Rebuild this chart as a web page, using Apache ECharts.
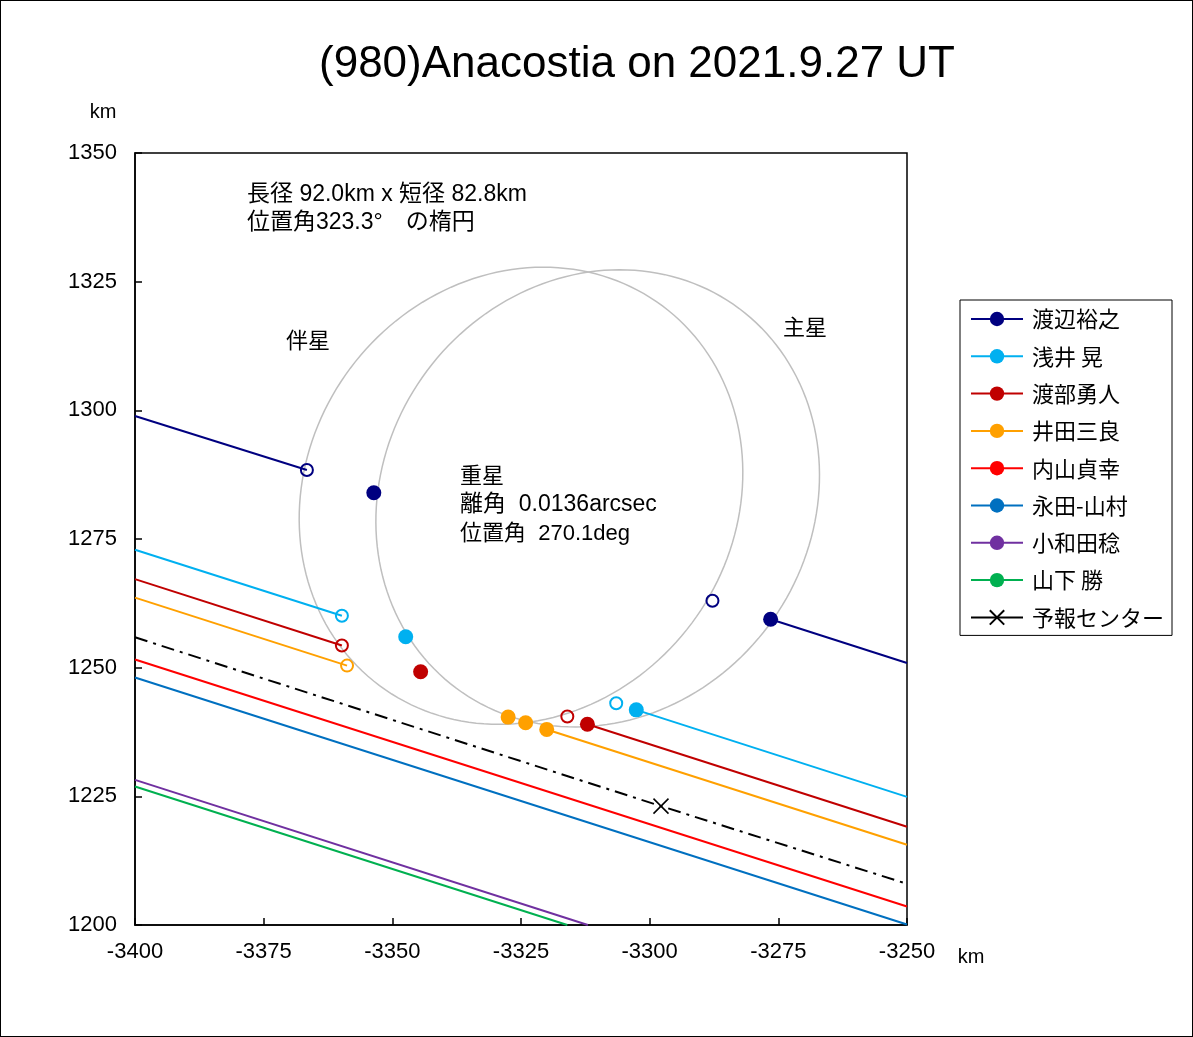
<!DOCTYPE html>
<html><head><meta charset="utf-8">
<script src="https://cdn.jsdelivr.net/npm/echarts@6/dist/echarts.min.js"></script>
<style>
html,body{margin:0;padding:0;background:#fff;overflow:hidden}
#c{position:absolute;left:0;top:0;width:1193px;height:1037px}
#frame{position:absolute;left:0;top:0;width:1193px;height:1037px;box-sizing:border-box;border:1px solid #000;pointer-events:none}
</style>
</head><body><div id="c"></div><div id="frame"></div>
<script>
// ---- axis ranges / ticks ----
const xRange = [-3400, -3250];
const yRange = [1200, 1350];
const tickStep = 25;

// ---- legend names (order as in the reference) ----
const legendNames = ['渡辺裕之', '浅井 晃', '渡部勇人', '井田三良', '内山貞幸', '永田-山村', '小和田稔', '山下 勝', '予報センター'];
const legendColors = ['#000080', '#00B0F0', '#C00000', '#FFA000', '#FF0000', '#0070C0', '#7030A0', '#00B050', '#000000'];

// ---- 渡辺裕之 ----
const watanabeIn = [[-3400, 1298.9], [-3366.6, 1288.4]];
const watanabeOut = [[-3276.5, 1259.4], [-3250, 1250.9]];
const watanabeOpen = [[-3366.6, 1288.4], [-3287.8, 1263.0]];
const watanabeFilled = [[-3353.6, 1284.0], [-3276.5, 1259.4]];

// ---- 浅井 晃 ----
const asaiIn = [[-3400, 1272.9], [-3359.8, 1260.1]];
const asaiOut = [[-3302.6, 1241.8], [-3250, 1224.9]];
const asaiOpen = [[-3359.8, 1260.1], [-3306.5, 1243.1]];
const asaiFilled = [[-3347.4, 1256.0], [-3302.6, 1241.8]];

// ---- 渡部勇人 ----
const watabeIn = [[-3400, 1267.2], [-3359.8, 1254.3]];
const watabeOut = [[-3312.1, 1239.0], [-3250, 1219.1]];
const watabeOpen = [[-3359.8, 1254.3], [-3316.0, 1240.5]];
const watabeFilled = [[-3344.5, 1249.2], [-3312.1, 1239.0]];

// ---- 井田三良 ----
const idaIn = [[-3400, 1263.6], [-3358.8, 1250.4]];
const idaOut = [[-3320.0, 1238.0], [-3250, 1215.6]];
const idaOpen = [[-3358.8, 1250.4]];
const idaFilled = [[-3327.5, 1240.4], [-3324.1, 1239.3], [-3320.0, 1238.0]];

// ---- chords without events ----
const uchiyamaLine = [[-3400, 1251.6], [-3250, 1203.6]];
const nagataLine = [[-3400, 1248.1], [-3250, 1200.1]];
const owadaLine = [[-3400, 1228.2], [-3312.0, 1200.0]];
const yamashitaLine = [[-3400, 1226.9], [-3316.0, 1200.0]];

// ---- prediction ----
const predLine = [[-3400, 1255.9], [-3297.8, 1223.1], [-3250, 1208.0]];

// ---- fitted ellipses (伴星 left, 主星 right) ----
const ellipseCenters = [[-3325.0, 1283.4], [-3310.1, 1282.9]];
const ellipseAxesKm = [92.0, 82.8];
const ellipsePAdeg = [323.3];

const FONT = "'Liberation Sans', Arial, 'Noto Sans CJK JP', sans-serif";
const JFONT = "'Noto Sans CJK JP', 'Liberation Sans', sans-serif";

function observed(idx, inSeg, outSeg, openPts, filledPts) {
  const name = legendNames[idx], c = legendColors[idx];
  return [
    { type: 'line', name, color: c, symbol: 'circle', symbolSize: 14, z: 3,
      itemStyle: { color: c, opacity: 1 }, lineStyle: { color: c, width: 2 },
      data: inSeg.map(p => ({ value: p, symbol: 'none' })) },
    { type: 'line', name, color: c, symbol: 'circle', symbolSize: 14, z: 3,
      itemStyle: { color: c, opacity: 1 }, lineStyle: { color: c, width: 2 },
      data: outSeg.map(p => ({ value: p, symbol: 'none' })) },
    { type: 'scatter', name, symbol: 'circle', symbolSize: 12, z: 5,
      itemStyle: { color: 'rgba(0,0,0,0)', borderColor: c, borderWidth: 2, opacity: 1 }, data: openPts },
    { type: 'scatter', name, symbol: 'circle', symbolSize: 15, z: 6,
      itemStyle: { color: c, opacity: 1 }, data: filledPts }
  ];
}
function plain(idx, pts) {
  const c = legendColors[idx];
  return { type: 'line', name: legendNames[idx], color: c, symbol: 'none', z: 3,
    lineStyle: { color: c, width: 2 }, data: pts };
}

const series = [].concat(
  observed(0, watanabeIn, watanabeOut, watanabeOpen, watanabeFilled),
  observed(1, asaiIn, asaiOut, asaiOpen, asaiFilled),
  observed(2, watabeIn, watabeOut, watabeOpen, watabeFilled),
  observed(3, idaIn, idaOut, idaOpen, idaFilled),
  [plain(4, uchiyamaLine), plain(5, nagataLine), plain(6, owadaLine), plain(7, yamashitaLine)],
  [{
    type: 'line', name: legendNames[8], color: '#000', z: 4,
    symbol: 'path://M0,0L10,10M10,0L0,10', symbolSize: 15,
    itemStyle: { color: 'rgba(0,0,0,0)', borderColor: '#000', borderWidth: 1.5, opacity: 1 },
    lineStyle: { color: '#000', width: 2, type: [13, 6, 3, 6] },
    data: predLine.map((p, i) => i === 1 ? { value: p } : { value: p, symbol: 'none' })
  }],
  [{
    type: 'custom', name: 'ellipse', z: 2, silent: true,
    encode: { x: 0, y: 1 },
    data: ellipseCenters,
    renderItem: function (params, api) {
      const cx = api.value(0), cy = api.value(1);
      const a = ellipseAxesKm[0] / 2, b = ellipseAxesKm[1] / 2;
      const th = (360 - ellipsePAdeg[0]) * Math.PI / 180;
      const ux = Math.sin(th), uy = Math.cos(th);   // major-axis direction
      const vx = Math.cos(th), vy = -Math.sin(th);  // minor-axis direction
      const pts = [];
      for (let k = 0; k <= 360; k += 2) {
        const t = k * Math.PI / 180;
        const u = a * Math.cos(t), v = b * Math.sin(t);
        pts.push(api.coord([cx + u * ux + v * vx, cy + u * uy + v * vy]));
      }
      return { type: 'polyline', shape: { points: pts },
        style: { fill: null, stroke: '#BFBFBF', lineWidth: 1.5 } };
    }
  }]
);

const legendData = legendNames.map((n, i) => i === 8 ? { name: n, lineStyle: { type: 'solid' } } : { name: n });

const chart = echarts.init(document.getElementById('c'), null, { renderer: 'canvas' });
chart.setOption({
  animation: false,
  backgroundColor: '#fff',
  grid: { left: 135, right: 286, top: 153, bottom: 112, show: true, borderColor: '#000', borderWidth: 1.5, backgroundColor: 'transparent' },
  xAxis: {
    type: 'value', min: xRange[0], max: xRange[1], interval: tickStep,
    axisLine: { show: true, onZero: false, lineStyle: { color: '#000', width: 1.5 } },
    axisTick: { show: true, inside: true, length: 7, lineStyle: { color: '#000', width: 1.5 } },
    axisLabel: { color: '#000', fontSize: 22, fontFamily: FONT, margin: 16, formatter: v => String(v) },
    splitLine: { show: false }
  },
  yAxis: {
    type: 'value', min: yRange[0], max: yRange[1], interval: tickStep,
    axisLine: { show: true, onZero: false, lineStyle: { color: '#000', width: 1.5 } },
    axisTick: { show: true, inside: true, length: 7, lineStyle: { color: '#000', width: 1.5 } },
    axisLabel: { color: '#000', fontSize: 22, fontFamily: FONT, margin: 18, formatter: v => String(v) },
    splitLine: { show: false }
  },
  legend: {
    data: legendData, orient: 'vertical', left: 960, top: 300,
    backgroundColor: '#fff', borderColor: '#000', borderWidth: 1,
    padding: [7, 8, 6, 10], itemWidth: 52, itemHeight: 18, itemGap: 13.3,
    selectedMode: false,
    textStyle: { fontSize: 22, fontFamily: JFONT, color: '#000', lineHeight: 24, padding: [0, 0, 0, 4] }
  },
  graphic: [
    { type: 'text', x: 637, y: 65, style: { text: '(980)Anacostia on 2021.9.27 UT', font: "44px 'Liberation Sans', Arial, sans-serif", fill: '#000', align: 'center', verticalAlign: 'middle' } },
    { type: 'text', x: 103, y: 112, style: { text: 'km', font: "20px 'Liberation Sans', Arial, sans-serif", fill: '#000', align: 'center', verticalAlign: 'middle' } },
    { type: 'text', x: 971, y: 957, style: { text: 'km', font: "20px 'Liberation Sans', Arial, sans-serif", fill: '#000', align: 'center', verticalAlign: 'middle' } },
    { type: 'text', x: 247, y: 195, style: { text: '長径 92.0km x 短径 82.8km', font: "23px 'Liberation Sans', 'Noto Sans CJK JP', sans-serif", fill: '#000', align: 'left', verticalAlign: 'middle' } },
    { type: 'text', x: 247, y: 223, style: { text: '位置角323.3°　の楕円', font: "23px 'Liberation Sans', 'Noto Sans CJK JP', sans-serif", fill: '#000', align: 'left', verticalAlign: 'middle' } },
    { type: 'text', x: 308, y: 340, style: { text: '伴星', font: "22px 'Noto Sans CJK JP', sans-serif", fill: '#000', align: 'center', verticalAlign: 'middle' } },
    { type: 'text', x: 805, y: 327, style: { text: '主星', font: "22px 'Noto Sans CJK JP', sans-serif", fill: '#000', align: 'center', verticalAlign: 'middle' } },
    { type: 'text', x: 460, y: 475, style: { text: '重星', font: "22px 'Noto Sans CJK JP', sans-serif", fill: '#000', align: 'left', verticalAlign: 'middle' } },
    { type: 'text', x: 460, y: 505, style: { text: '離角  0.0136arcsec', font: "23px 'Liberation Sans', 'Noto Sans CJK JP', sans-serif", fill: '#000', align: 'left', verticalAlign: 'middle' } },
    { type: 'text', x: 460, y: 534, style: { text: '位置角  270.1deg', font: "22px 'Liberation Sans', 'Noto Sans CJK JP', sans-serif", fill: '#000', align: 'left', verticalAlign: 'middle' } }
  ],
  series: series
});
</script>
</body></html>
